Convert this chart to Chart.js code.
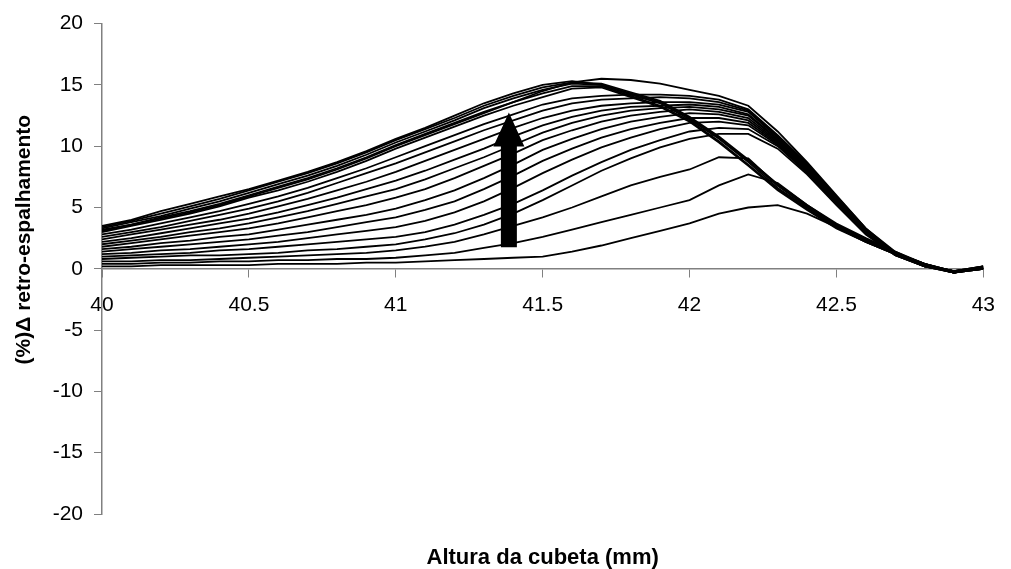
<!DOCTYPE html>
<html>
<head>
<meta charset="utf-8">
<script src="https://cdn.jsdelivr.net/npm/chart.js@4/dist/chart.umd.min.js"></script>
<style>
  html, body { margin: 0; padding: 0; background: #fff; }
  #wrap { width: 1011px; height: 569px; position: relative; }
</style>
</head>
<body>
<div id="wrap"><canvas id="chart"></canvas></div>
<script>
// Altura da cubeta (mm)
const alturas = [40.0, 40.1, 40.2, 40.3, 40.4, 40.5, 40.6, 40.7, 40.8, 40.9, 41.0, 41.1, 41.2, 41.3, 41.4, 41.5,
  41.6, 41.7, 41.8, 41.9, 42.0, 42.1, 42.2, 42.3, 42.4, 42.5, 42.6, 42.7, 42.8, 42.9, 43.0]

// Curvas de retro-espalhamento (de cima para baixo em x = 40)
const curva01 = [3.5, 4.0, 4.7, 5.3, 5.9, 6.5, 7.2, 7.9, 8.7, 9.6, 10.6, 11.5, 12.5, 13.5, 14.3, 15.0, 15.3, 15.0, 14.3, 13.6, 12.3, 10.7, 8.8, 6.8, 5.1, 3.6, 2.4, 1.3, 0.4, -0.2, 0.2]
const curva02 = [3.4, 3.9, 4.5, 5.1, 5.7, 6.4, 7.1, 7.8, 8.6, 9.5, 10.5, 11.4, 12.3, 13.3, 14.1, 14.8, 15.2, 15.1, 14.4, 13.7, 12.4, 10.8, 8.9, 6.9, 5.2, 3.7, 2.5, 1.4, 0.4, -0.3, 0.1]
const curva03 = [3.3, 3.8, 4.3, 4.9, 5.5, 6.2, 6.9, 7.6, 8.4, 9.3, 10.3, 11.2, 12.1, 13.1, 13.9, 14.6, 15.1, 15.0, 14.2, 13.5, 12.2, 10.6, 8.7, 6.6, 5.0, 3.5, 2.3, 1.3, 0.4, -0.2, 0.2]
const curva04 = [3.2, 3.6, 4.2, 4.7, 5.3, 6.0, 6.7, 7.4, 8.2, 9.1, 10.1, 11.0, 11.9, 12.8, 13.6, 14.3, 14.9, 14.9, 14.1, 13.3, 12.1, 10.4, 8.5, 6.5, 4.9, 3.4, 2.2, 1.2, 0.3, -0.3, 0.0]
const curva05 = [3.1, 3.6, 4.1, 4.6, 5.2, 5.9, 6.6, 7.3, 8.1, 9.0, 10.0, 10.9, 11.8, 12.7, 13.6, 14.5, 15.2, 15.5, 15.4, 15.1, 14.6, 14.1, 13.3, 11.2, 8.7, 6.0, 3.3, 1.3, 0.3, -0.3, 0.2]
const curva06 = [3.0, 3.5, 4.0, 4.5, 5.1, 5.8, 6.4, 7.1, 7.9, 8.8, 9.8, 10.7, 11.6, 12.5, 13.3, 14.0, 14.7, 14.8, 14.0, 13.2, 12.0, 10.3, 8.4, 6.4, 4.8, 3.3, 2.2, 1.2, 0.3, -0.2, 0.1]
const curva07 = [2.8, 3.2, 3.7, 4.2, 4.7, 5.3, 5.9, 6.6, 7.4, 8.2, 9.1, 10.0, 10.9, 11.8, 12.6, 13.4, 13.9, 14.1, 14.2, 14.2, 14.1, 13.8, 13.0, 10.9, 8.6, 5.9, 3.3, 1.4, 0.3, -0.3, 0.1]
const curva08 = [2.6, 3.0, 3.4, 3.9, 4.4, 4.9, 5.5, 6.2, 7.0, 7.8, 8.6, 9.5, 10.4, 11.3, 12.1, 12.9, 13.5, 13.8, 13.9, 14.0, 13.9, 13.6, 12.9, 10.8, 8.5, 5.8, 3.2, 1.3, 0.3, -0.2, 0.0]
const curva09 = [2.4, 2.8, 3.2, 3.6, 4.0, 4.5, 5.1, 5.7, 6.4, 7.1, 7.9, 8.8, 9.7, 10.6, 11.5, 12.3, 12.9, 13.3, 13.5, 13.6, 13.6, 13.4, 12.8, 10.7, 8.4, 5.8, 3.2, 1.3, 0.3, -0.3, 0.1]
const curva10 = [2.2, 2.5, 2.9, 3.3, 3.7, 4.1, 4.6, 5.2, 5.8, 6.5, 7.2, 8.0, 8.9, 9.8, 10.8, 11.7, 12.4, 12.9, 13.2, 13.3, 13.4, 13.2, 12.6, 10.6, 8.3, 5.7, 3.1, 1.3, 0.3, -0.2, 0.2]
const curva11 = [2.0, 2.3, 2.6, 3.0, 3.3, 3.7, 4.2, 4.7, 5.3, 5.9, 6.5, 7.3, 8.2, 9.1, 10.1, 11.1, 11.9, 12.5, 12.9, 13.1, 13.2, 13.0, 12.5, 10.5, 8.2, 5.6, 3.1, 1.2, 0.3, -0.3, 0.0]
const curva12 = [1.8, 2.1, 2.4, 2.7, 3.0, 3.3, 3.7, 4.2, 4.7, 5.2, 5.8, 6.5, 7.4, 8.4, 9.4, 10.5, 11.3, 12.0, 12.5, 12.8, 13.0, 12.8, 12.3, 10.4, 8.2, 5.6, 3.0, 1.2, 0.3, -0.2, 0.1]
const curva13 = [1.6, 1.8, 2.1, 2.3, 2.6, 2.8, 3.2, 3.6, 4.0, 4.4, 4.9, 5.6, 6.4, 7.4, 8.5, 9.7, 10.6, 11.4, 12.0, 12.4, 12.7, 12.6, 12.1, 10.3, 8.1, 5.5, 3.0, 1.2, 0.2, -0.3, 0.0]
const curva14 = [1.4, 1.6, 1.8, 2.0, 2.2, 2.4, 2.7, 3.0, 3.4, 3.8, 4.2, 4.8, 5.5, 6.5, 7.6, 8.8, 9.8, 10.7, 11.4, 11.9, 12.3, 12.3, 11.9, 10.2, 8.0, 5.5, 3.0, 1.2, 0.2, -0.2, 0.1]
const curva15 = [1.2, 1.3, 1.5, 1.6, 1.8, 2.0, 2.2, 2.5, 2.8, 3.1, 3.4, 3.9, 4.6, 5.5, 6.6, 7.8, 8.9, 9.9, 10.7, 11.4, 11.9, 12.0, 11.7, 10.1, 7.9, 5.4, 2.9, 1.1, 0.2, -0.3, 0.1]
const curva16 = [1.0, 1.1, 1.2, 1.3, 1.5, 1.6, 1.8, 2.0, 2.2, 2.4, 2.6, 3.0, 3.6, 4.4, 5.3, 6.4, 7.6, 8.7, 9.7, 10.5, 11.2, 11.5, 11.4, 10.0, 7.8, 5.3, 2.9, 1.1, 0.2, -0.2, 0.0]
const curva17 = [0.8, 0.9, 1.0, 1.1, 1.1, 1.2, 1.3, 1.5, 1.6, 1.8, 2.0, 2.4, 2.9, 3.6, 4.5, 5.6, 6.8, 8.0, 9.0, 9.9, 10.6, 11.0, 11.0, 9.8, 7.7, 5.2, 2.8, 1.1, 0.2, -0.3, 0.1]
const curva18 = [0.6, 0.6, 0.7, 0.7, 0.8, 0.9, 1.0, 1.1, 1.2, 1.3, 1.5, 1.8, 2.2, 2.8, 3.5, 4.2, 5.0, 5.9, 6.8, 7.5, 8.1, 9.1, 9.0, 6.8, 5.1, 3.6, 2.3, 1.3, 0.4, -0.2, 0.0]
const curva19 = [0.4, 0.4, 0.5, 0.5, 0.6, 0.6, 0.7, 0.7, 0.8, 0.8, 0.9, 1.1, 1.3, 1.7, 2.1, 2.6, 3.2, 3.8, 4.4, 5.0, 5.6, 6.8, 7.7, 7.0, 5.2, 3.6, 2.4, 1.3, 0.4, -0.3, 0.1]
const curva20 = [0.2, 0.2, 0.3, 0.3, 0.3, 0.3, 0.4, 0.4, 0.4, 0.5, 0.5, 0.6, 0.7, 0.8, 0.9, 1.0, 1.4, 1.9, 2.5, 3.1, 3.7, 4.5, 5.0, 5.2, 4.5, 3.4, 2.2, 1.2, 0.3, -0.3, 0.0]

const curvas = [curva01, curva02, curva03, curva04, curva05, curva06, curva07, curva08, curva09, curva10,
  curva11, curva12, curva13, curva14, curva15, curva16, curva17, curva18, curva19, curva20]

// Seta (posição em unidades dos eixos)
const setaX = 41.385
const setaInicio = 1.75
const setaFim = 12.75

// Rótulos dos eixos
const tituloX = 'Altura da cubeta (mm)'
const tituloY = '(%)\u0394 retro-espalhamento'

const fonte = "'Liberation Sans', Arial, sans-serif"
const cinza = '#808080'

// Desenhar a seta por cima das curvas
const setaPlugin = {
  id: 'seta',
  afterDatasetsDraw(chart) {
    const { ctx, scales } = chart
    const px = scales.x.getPixelForValue(setaX)
    const y0 = scales.y.getPixelForValue(setaInicio)
    const y1 = scales.y.getPixelForValue(setaFim)
    const cabeca = 34
    const meiaCabeca = 15.5
    const meiaHaste = 8
    ctx.save()
    ctx.fillStyle = '#000'
    ctx.beginPath()
    ctx.moveTo(px - meiaHaste, y0)
    ctx.lineTo(px - meiaHaste, y1 + cabeca)
    ctx.lineTo(px - meiaCabeca, y1 + cabeca)
    ctx.lineTo(px, y1)
    ctx.lineTo(px + meiaCabeca, y1 + cabeca)
    ctx.lineTo(px + meiaHaste, y1 + cabeca)
    ctx.lineTo(px + meiaHaste, y0)
    ctx.closePath()
    ctx.fill()
    ctx.restore()
  }
}

const datasets = curvas.map((serie, i) => ({
  label: 'Curva ' + (i + 1),
  data: alturas.map((x, j) => ({ x: x, y: serie[j] })),
  borderColor: '#000',
  borderWidth: 1.8,
  pointRadius: 0,
  tension: 0,
  fill: false
}))

new Chart(document.getElementById('chart').getContext('2d'), {
  type: 'line',
  data: { datasets: datasets },
  options: {
    responsive: true,
    maintainAspectRatio: false,
    animation: false,
    layout: { padding: { top: 23, right: 15, bottom: 0, left: 0 } },
    plugins: {
      legend: { display: false },
      tooltip: { enabled: false },
      title: {
        display: true,
        text: tituloX,
        position: 'bottom',
        fullSize: false,
        color: '#000',
        font: { family: fonte, size: 22, weight: 'bold', lineHeight: 1.0 },
        padding: { top: 33, bottom: 0 }
      }
    },
    scales: {
      x: {
        type: 'linear',
        position: { y: 0 },
        min: 40,
        max: 43,
        grid: { drawOnChartArea: false, drawTicks: true, tickLength: 8, color: cinza },
        border: { display: true, color: cinza, width: 1.5 },
        ticks: {
          stepSize: 0.5,
          padding: 16,
          color: '#000',
          font: { family: fonte, size: 21 },
          maxRotation: 0,
          callback: (v) => String(v)
        }
      },
      y: {
        type: 'linear',
        position: 'left',
        min: -20,
        max: 20,
        afterFit: (scale) => { scale.width = 102 },
        grid: { drawOnChartArea: false, drawTicks: true, tickLength: 8, color: cinza },
        border: { display: true, color: cinza, width: 1.5 },
        ticks: {
          stepSize: 5,
          padding: 11,
          color: '#000',
          font: { family: fonte, size: 21 }
        },
        title: {
          display: true,
          text: '          ' + tituloY,
          color: '#000',
          font: { family: fonte, size: 21, weight: 'bold', lineHeight: 1.2 },
          padding: { top: 12, bottom: 0 }
        }
      }
    }
  },
  plugins: [setaPlugin]
})
</script>
</body>
</html>
